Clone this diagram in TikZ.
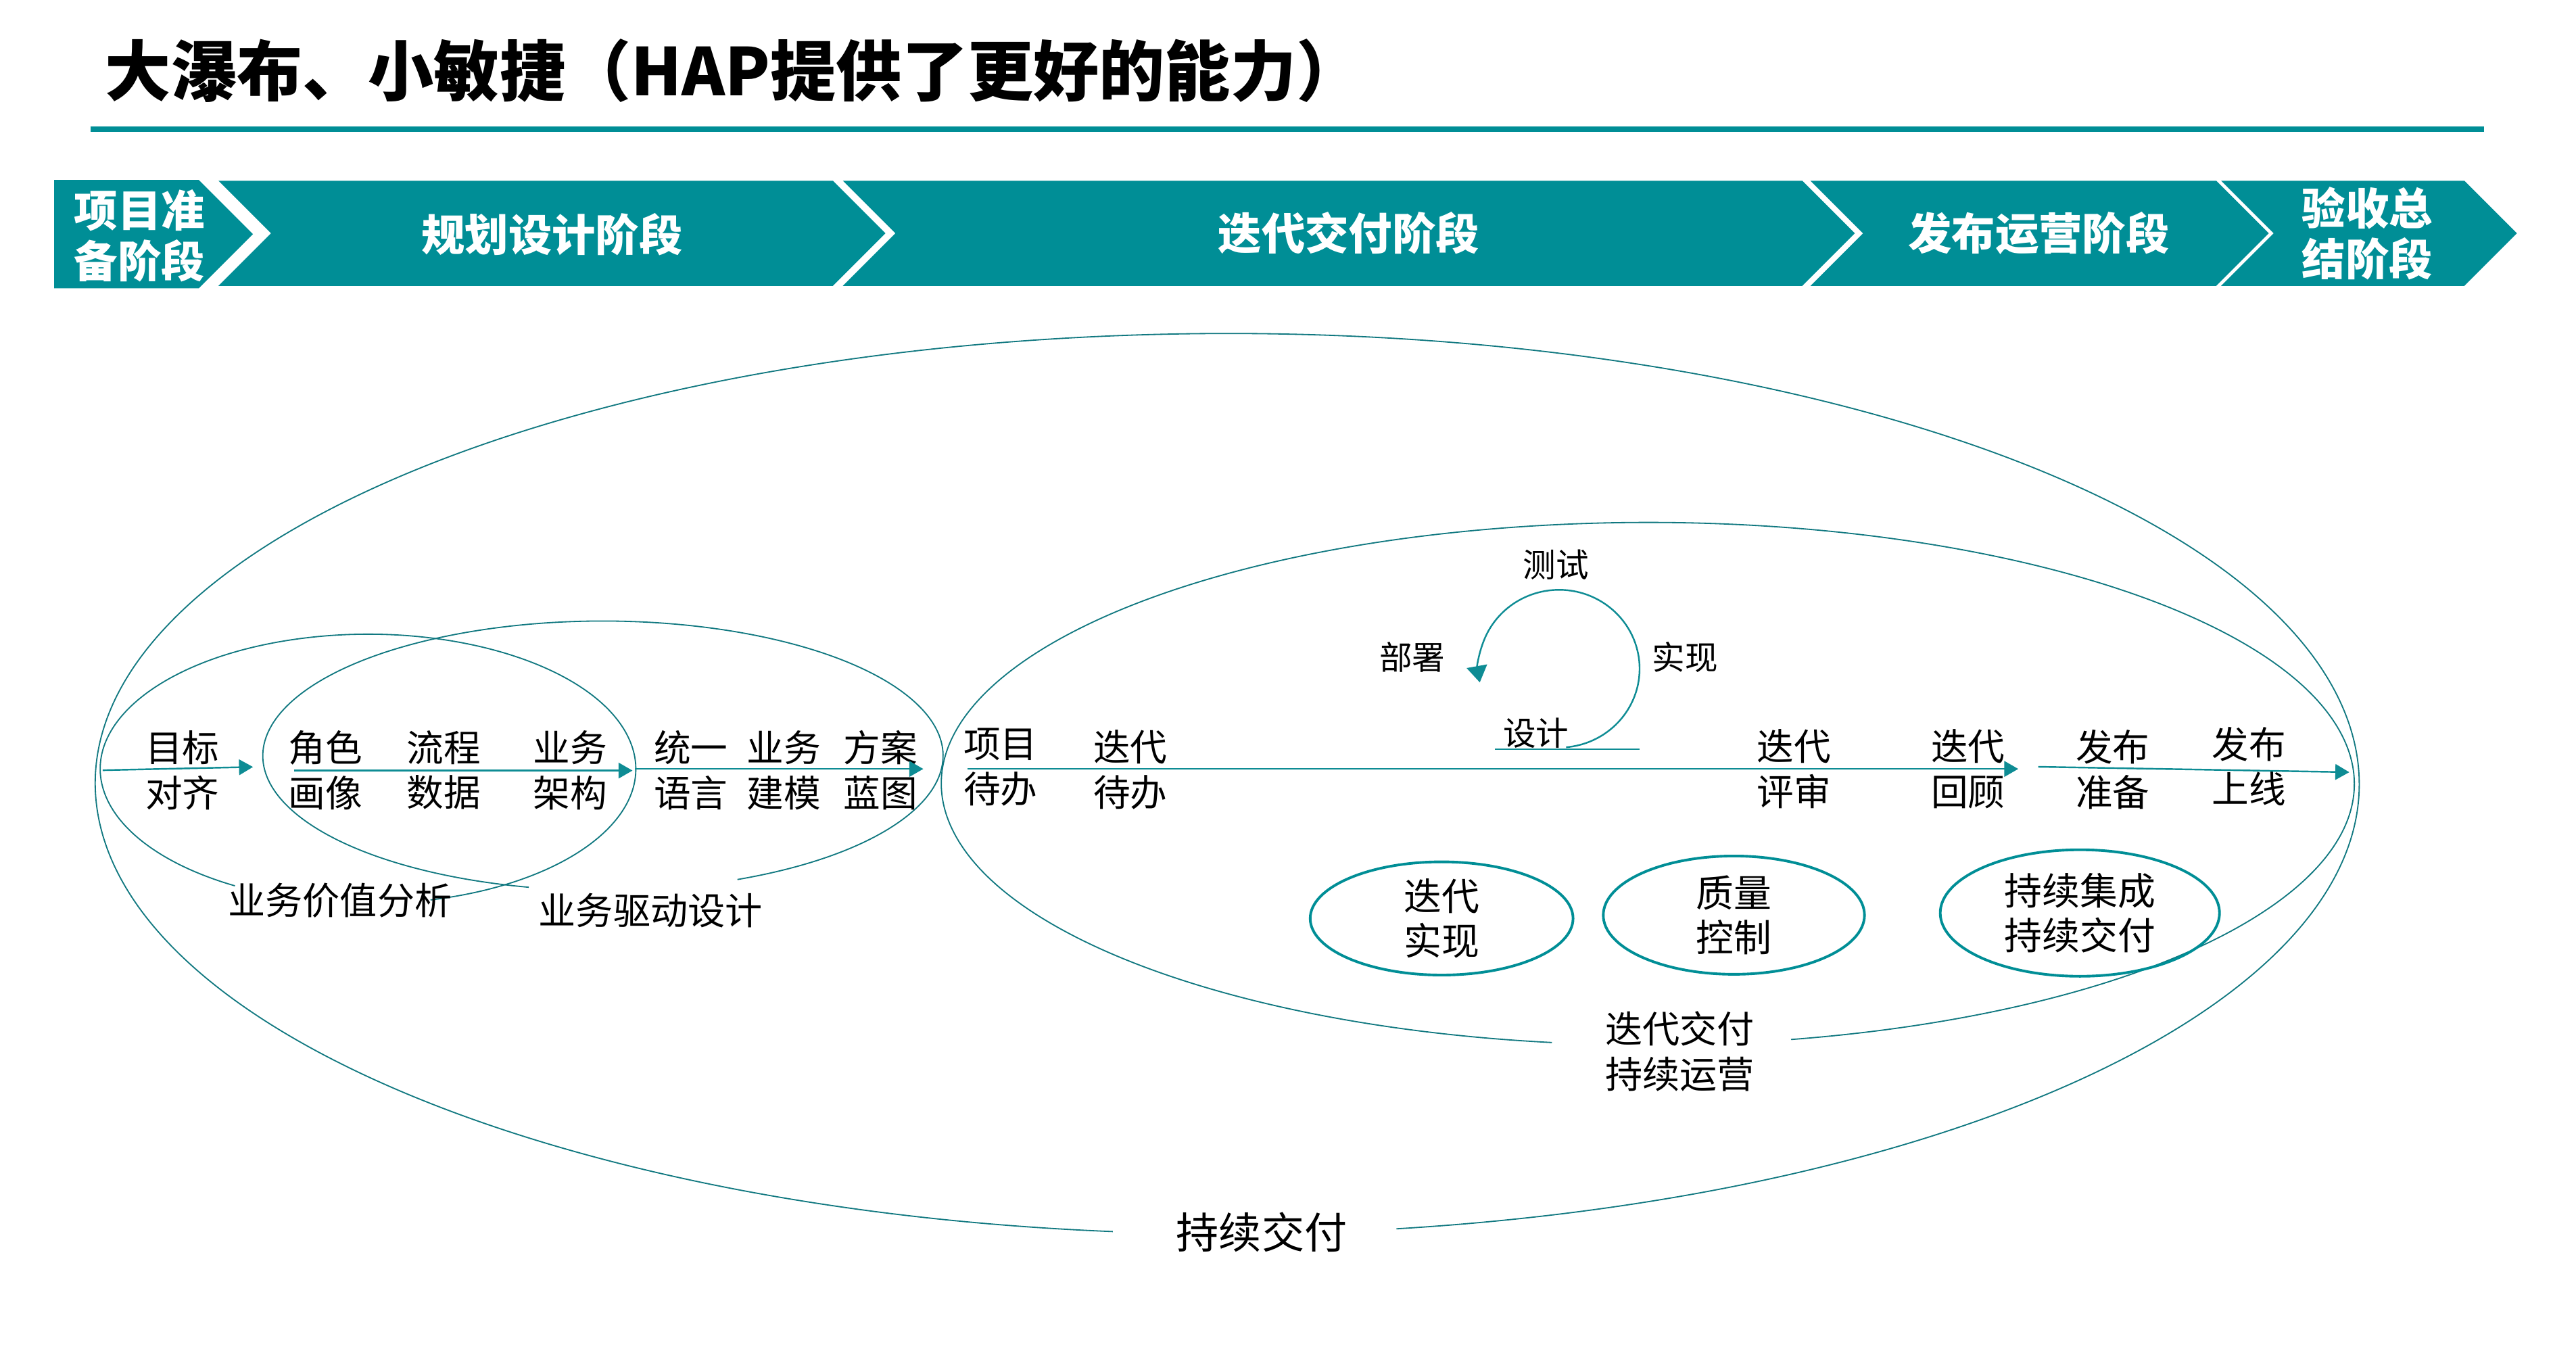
\documentclass[tikz,border=0pt]{standalone}
\usepackage{fontspec}
\setmainfont{Noto Sans CJK SC}
\usetikzlibrary{arrows.meta, shapes.geometric, positioning}
\definecolor{hapteal}{RGB}{0, 142, 150}
\definecolor{hapring}{RGB}{16, 120, 128}
\definecolor{hapflow}{RGB}{14, 140, 148}
\tikzset{
  titletext/.style={font=\fontsize{40}{45}\selectfont\bfseries, inner sep=0pt},
  stagebox/.style={text=white, font=\fontsize{26.5}{31}\selectfont\bfseries, align=center, inner sep=0pt},
  flowlabel/.style={font=\fontsize{22.5}{27.5}\selectfont, align=center, inner sep=0pt},
  cyclelabel/.style={font=\fontsize{20}{24}\selectfont, inner sep=0pt},
  ringlabel/.style={font=\fontsize{22.7}{27.5}\selectfont, align=center, inner sep=0pt},
  loopbox/.style={ellipse, draw=hapteal, line width=1.6pt, align=center, inner sep=0pt,
                  font=\fontsize{23}{27.5}\selectfont},
  ring/.style={draw=hapring, line width=0.75pt},
  flowarrow/.style={-{Triangle[length=8.5pt, width=9.5pt]}, line width=1pt, color=hapflow},
}
\begin{document}
\begin{tikzpicture}[x=1pt, y=1pt]
  \fill[white] (0,0) rectangle (1568,822);
  \useasboundingbox (0,0) rectangle (1568,822);

  % title
  \node[titletext, anchor=west] (title) at (64,779) {大瀑布、小敏捷（HAP提供了更好的能力）};
  \draw[hapteal, line width=3.4pt] (55,743.5) -- (1512,743.5);

  % stage bar
  \fill[hapteal] (33,712.5) -- (121,712.5) -- ++(33,-33) -- ++(-33,-33) -- (33,646.5) -- cycle;
  \foreach \a/\b in {133/507, 513/1097, 1102/1349, 1352/1500}
    \fill[hapteal] (\a,712) -- (\b,712) -- ++(32,-32) -- ++(-32,-32) -- (\a,648) -- ++(32,32) -- cycle;
  \node[stagebox] (prep) at (85,678.5) {项目准\\备阶段};
  \node[stagebox] (plan) at (336,679.5) {规划设计阶段};
  \node[stagebox] (iter) at (821,680) {迭代交付阶段};
  \node[stagebox] (ops) at (1241,680) {发布运营阶段};
  \node[stagebox] (close) at (1441,680) {验收总\\结阶段};

  % rings
  \draw[ring] (747,345) ++(278.6:689 and 274)
    arc[start angle=278.6, end angle=624.2, x radius=689, y radius=274];
  \node[ringlabel, font=\fontsize{26}{30}\selectfont] (cdlabel) at (768,72) {持续交付};
  \draw[ring] (1003,345) ++(281.7:430 and 159)
    arc[start angle=281.7, end angle=622.2, x radius=430, y radius=159];
  \node[ringlabel] (oplabel) at (1022.5,182) {迭代交付\\持续运营};
  \draw[ring] (224,354) ++(283.5:163 and 82)
    arc[start angle=283.5, end angle=600.2, x radius=163, y radius=82];
  \node[ringlabel] (valabel) at (207,274) {业务价值分析};
  \draw[ring] (367,362) ++(293.3:207 and 82)
    arc[start angle=293.3, end angle=617.4, x radius=207, y radius=82];
  \node[ringlabel] (bdlabel) at (396,268) {业务驱动设计};

  % flow labels
  \node[flowlabel] (goal) at (111,353.3) {目标\\对齐};
  \node[flowlabel] (role) at (198,353.3) {角色\\画像};
  \node[flowlabel] (proc) at (270,353.3) {流程\\数据};
  \node[flowlabel] (arch) at (347,353.3) {业务\\架构};
  \node[flowlabel] (lang) at (420.5,353.3) {统一\\语言};
  \node[flowlabel] (model) at (477,353.3) {业务\\建模};
  \node[flowlabel] (blue) at (536,353.3) {方案\\蓝图};
  \node[flowlabel] (backlog) at (609,355) {项目\\待办};
  \node[flowlabel] (itback) at (688,353.5) {迭代\\待办};
  \node[flowlabel] (review) at (1092,354) {迭代\\评审};
  \node[flowlabel] (retro) at (1198,354) {迭代\\回顾};
  \node[flowlabel] (relprep) at (1286,353.5) {发布\\准备};
  \node[flowlabel] (golive) at (1369,355.5) {发布\\上线};

  % flow arrows
  \coordinate (f1s) at (62.5,353.2);  \coordinate (f1e) at (154,355.2);
  \coordinate (f2s) at (179,353);     \coordinate (f2e) at (385,353);
  \coordinate (f3s) at (386.5,354);   \coordinate (f3e) at (562,354);
  \coordinate (f4s) at (589,354);     \coordinate (f4e) at (1228.5,354);
  \coordinate (f5s) at (1240.6,355.3); \coordinate (f5e) at (1430,352);
  \foreach \i in {1,...,5}
    \draw[flowarrow] (f\i s) -- (f\i e);

  % iteration loop
  \coordinate (cyc) at (949,415);
  \draw[hapflow, line width=1pt, -{Triangle[length=10pt, width=12.5pt]}] (cyc) ++(-85:49 and 48)
    arc[start angle=-85, end angle=190, x radius=49, y radius=48];
  \node[cyclelabel] (test) at (947,478.5) {测试};
  \node[cyclelabel] (deploy) at (859.6,422) {部署};
  \node[cyclelabel] (impl) at (1025.6,422) {实现};
  \node[cyclelabel] (design) at (935,376) {设计};
  \draw[hapflow, line width=1pt] (910,366) -- (998,366);

  % practice circles
  \node[loopbox, minimum width=160pt, minimum height=68pt] (itimpl) at (877.5,263) {迭代\\实现};
  \node[loopbox, minimum width=159pt, minimum height=72pt] (qual) at (1055.4,265) {质量\\控制};
  \node[loopbox, minimum width=170pt, minimum height=77pt] (cicd) at (1266,266.3) {持续集成\\持续交付};
\end{tikzpicture}
\end{document}
